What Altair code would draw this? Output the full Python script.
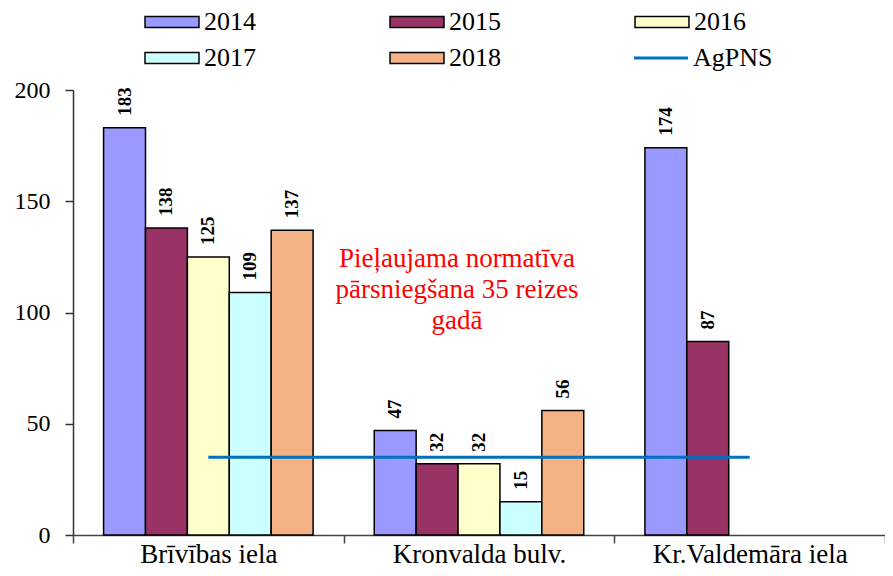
import altair as alt
import pandas as pd

categories = ["Brīvības iela", "Kronvalda bulv.", "Kr.Valdemāra iela"]
years = ["2014", "2015", "2016", "2017", "2018"]
values = {
    "2014": [183, 47, 174],
    "2015": [138, 32, 87],
    "2016": [125, 32, None],
    "2017": [109, 15, None],
    "2018": [137, 56, None],
}
year_colors = ["#9999FF", "#993366", "#FFFFCC", "#CCFFFF", "#F4B183"]
limit_value = 35
limit_name = "AgPNS"
limit_color = "#0070C0"
annotation = ["Pieļaujama normatīva", "pārsniegšana 35 reizes", "gadā"]

rows = []
for y in years:
    for c, v in zip(categories, values[y]):
        if v is not None:
            rows.append({"vieta": c, "gads": y, "vertiba": v})
df = pd.DataFrame(rows)
df_line = pd.DataFrame({"vieta": categories, "vertiba": [limit_value] * 3, "s": [limit_name] * 3})
df_ann = pd.DataFrame({"vieta": [categories[1]], "t": [annotation]})

FONT = "Liberation Serif"
W, H = 812, 445

xscale = alt.Scale(domain=categories, paddingInner=0, paddingOuter=0)
yscale = alt.Scale(domain=[0, 200])

x = alt.X("vieta:N", scale=xscale, sort=categories, title=None,
          axis=alt.Axis(labelAngle=0, tickBand="extent", tickSize=8, labelPadding=19,
                        labelBaseline="alphabetic", labelLimit=400,
                        labelFontSize=27, labelFont=FONT, labelColor="black",
                        domainColor="#444", tickColor="#444"))
y = alt.Y("vertiba:Q", scale=yscale, title=None,
          axis=alt.Axis(values=[0, 50, 100, 150, 200], tickSize=8, labelPadding=15,
                        labelFontSize=24, labelFont=FONT, labelColor="black", grid=False,
                        domainColor="#333", tickColor="#333"))
xoff = alt.XOffset("gads:N", scale=alt.Scale(domain=years, paddingInner=0, paddingOuter=0.73))

legend_common = dict(title=None, labelFont=FONT, labelFontSize=26, labelColor="black",
                     symbolType="M-2.5,-0.5H2.5V0.5H-2.5Z", symbolSize=466, labelOffset=19)

bars = alt.Chart(df).mark_bar(stroke="black", strokeWidth=1.5).encode(
    x=x, y=y, xOffset=xoff,
    fill=alt.Fill("gads:N", scale=alt.Scale(domain=years, range=year_colors),
                  legend=alt.Legend(orient="none", legendX=86, legendY=-81, columns=3,
                                    direction="horizontal", columnPadding=131, rowPadding=10,
                                    symbolStrokeColor="black", symbolStrokeWidth=1.5,
                                    **legend_common)),
)

labels = alt.Chart(df).mark_text(angle=270, align="left", baseline="middle", dx=12,
                                 font=FONT, fontSize=19, fontWeight="bold", color="black").encode(
    x=x, y=y, xOffset=xoff, text="vertiba:Q")

line = alt.Chart(df_line).mark_line(strokeWidth=3).encode(
    x=x, y=y,
    stroke=alt.Stroke("s:N", scale=alt.Scale(domain=[limit_name], range=[limit_color]),
                      legend=alt.Legend(orient="none", legendX=575, legendY=-45,
                                        symbolStrokeWidth=3, **{**legend_common,
                                        "symbolType": "M-2.5,0H2.5"})),
)

ann = alt.Chart(df_ann).mark_text(color="#FF0000", font=FONT, fontSize=27, lineHeight=31,
                                  align="center", baseline="top", dx=-22).encode(
    x=x, y=alt.value(156), text="t")

chart = alt.layer(bars, line, labels, ann).resolve_scale(fill="independent", stroke="independent").properties(
    width=W, height=H,
    autosize=alt.AutoSizeParams(type="none"),
    padding={"left": 65, "top": 82, "right": 0, "bottom": 33},
).configure_view(stroke=None).configure_axis(domainWidth=1.5, tickWidth=1.5)

chart.save("out.html", embed_options={"renderer": "svg", "actions": False})
